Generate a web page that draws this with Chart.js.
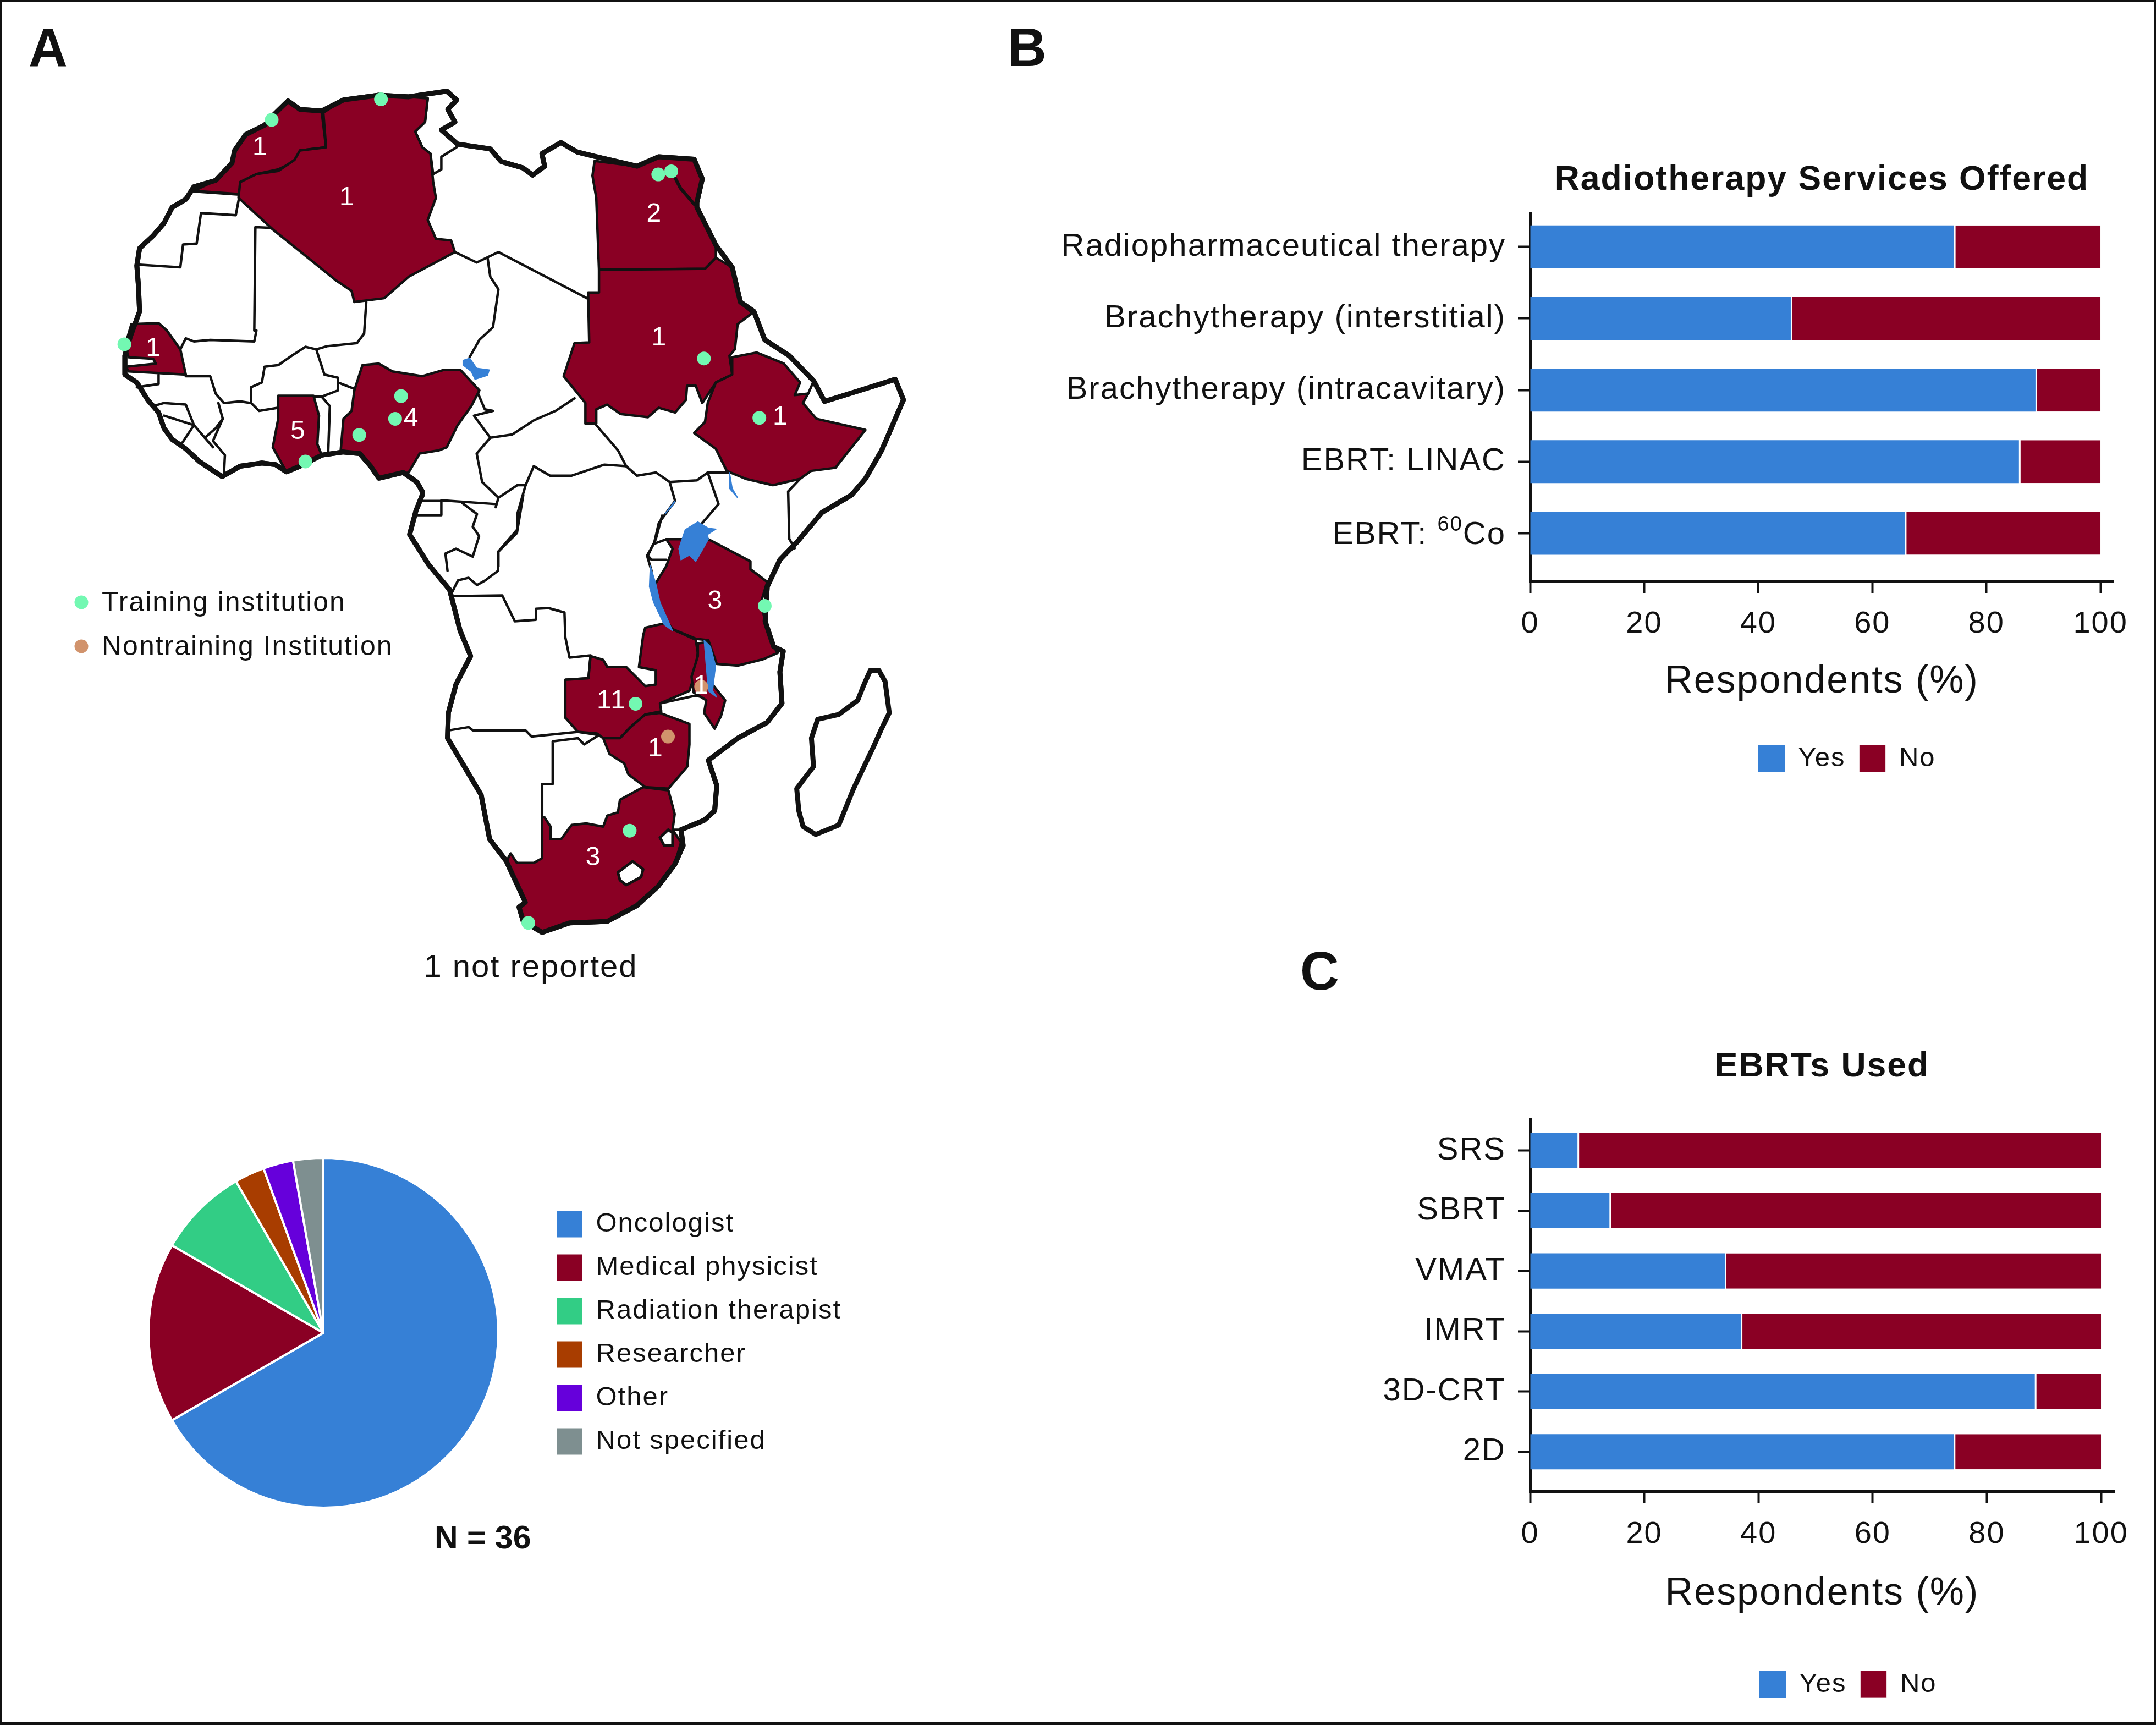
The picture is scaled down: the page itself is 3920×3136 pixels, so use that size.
<!DOCTYPE html>
<html><head><meta charset="utf-8">
<script src="https://cdn.jsdelivr.net/npm/chart.js@4"></script>
<style>
html,body{margin:0;padding:0;background:#fff;width:3920px;height:3136px;overflow:hidden;font-family:"Liberation Sans",sans-serif;color:#111}
canvas{position:absolute;display:block}
.t{position:absolute;white-space:nowrap}
.p{font-weight:700;font-size:98px;line-height:96px;color:#111}
#frame{position:absolute;left:0;top:0;width:3912px;height:3127px;border:4px solid #111;border-bottom-width:5px}
</style></head><body>
<div id="frame"></div>
<div class="t p" style="left:52px;top:38px">A</div>
<div class="t p" style="left:1832px;top:38px">B</div>
<div class="t p" style="left:2364px;top:1717px">C</div>
<div class="t" style="left:790px;top:2760px;font-weight:700;font-size:59px;line-height:70px">N = 36</div>
<canvas id="map" width="1900" height="1900" style="left:0;top:0"></canvas>
<canvas id="pie" width="1800" height="640" style="left:0;top:2103px"></canvas>
<canvas id="b" width="2086" height="1180" style="left:1830px;top:270px"></canvas>
<canvas id="c" width="2086" height="1250" style="left:1830px;top:1880px"></canvas>
<script>
// ---------- data ----------
const serviceCats=['Radiopharmaceutical therapy','Brachytherapy (interstitial)','Brachytherapy (intracavitary)','EBRT: LINAC','EBRT: 60Co'];
const serviceYes=[74.3,45.7,88.6,85.7,65.7];
const serviceNo=[25.7,54.3,11.4,14.3,34.3];
const ebrtCats=['SRS','SBRT','VMAT','IMRT','3D-CRT','2D'];
const ebrtYes=[8.3,13.9,34.1,36.9,88.4,74.2];
const ebrtNo=[91.7,86.1,65.9,63.1,11.6,25.8];
const pieLabels=['Oncologist','Medical physicist','Radiation therapist','Researcher','Other','Not specified'];
const pieValues=[24,6,3,1,1,1];
const xTickValues=[0,20,40,60,80,100];

// map geometry: two survey frames (north and south of Africa) of [x,y,x,y,...]
const coastNorth=[615,1300,590,1270,545,1288,530,1250,510,1210,480,1205,440,1215,400,1250,375,1268,355,1245,330,1240,290,1250,257,1283,215,1235,190,1195,165,1165,150,1130,140,1080,120,1040,100,985,78,960,78,900,88,840,105,760,103,680,100,615,105,560,130,520,150,480,165,430,190,405,205,365,245,345,275,290,280,250,300,200,335,170,350,140,378,93,400,120,440,125,480,90,545,75,600,80,670,62,688,90,672,120,685,160,660,185,690,230,750,245,770,285,810,305,828,328,850,300,845,260,880,225,910,255,945,270,1020,300,1060,270,1125,278,1140,340,1130,415,1130,430,1165,550,1195,620,1210,730,1235,760,1255,850,1300,900,1345,980,1365,1045,1430,1010,1495,975,1510,1040,1470,1200,1440,1290];
const coastSouth=[1370,0,1300,55,1240,150,1200,205,1170,290,1165,400,1185,480,1208,495,1200,560,1205,660,1170,720,1100,770,1030,840,1050,920,1045,1000,1020,1030,965,1060,970,1110,950,1170,910,1240,860,1300,790,1350,700,1355,635,1385,590,1350,580,1305,595,1290,550,1160,510,1090,490,950,450,860,410,770,412,690,430,600,465,510,440,430,415,300,365,220,320,125,335,50,350,0];
const madagascar=[1415,555,1435,555,1450,590,1460,690,1440,745,1425,790,1375,930,1340,1045,1285,1075,1255,1050,1245,1000,1240,930,1280,860,1275,770,1290,710,1340,695,1385,650,1400,600,1415,555];

const northBorders=[
[205,380,288,390],
[288,400,282,455,218,448,210,545,185,548,180,620,105,612],
[350,495,318,493,316,820,320,820,316,855,235,850,205,855,190,845,180,880],
[522,730,518,830,505,860,450,870,430,880,410,872,385,900,360,930,335,935,330,985,310,1000,310,1050,290,1045,260,1050,245,1020,235,965,190,965],
[685,572,725,605,765,572,930,720],
[745,590,750,650,765,690,755,810,730,850,712,905],
[430,880,445,960,470,970,470,1010,440,1030,425,1030],
[470,985,500,1005],
[310,1050,325,1075,360,1065],
[440,1030,455,1060,452,1205],
[260,1283,262,1215,240,1170,258,1100,250,1050],
[130,1060,150,1050,190,1055,205,1120,225,1160,245,1130,258,1100],
[180,1185,205,1120,150,1090],
[225,1160,240,1190],
[100,1000,140,990,140,960],
[635,85,630,160,612,190,625,240,640,260,645,325,660,310,660,270,688,240],
[725,1010,740,1070,755,1075,720,1090,750,1160,725,1210,735,1300,765,1350,760,1380],
[750,1160,790,1150,830,1105,870,1075,905,1035],
[765,1350,800,1310,815,1310,830,1250,860,1280,900,1280,960,1245,1000,1250,1020,1280,1055,1270,1080,1300,1130,1295,1150,1270,1190,1270],
[945,1120,985,1200,1000,1250],
[1150,1270,1170,1370,1140,1430],
[1320,1290,1298,1330,1300,1480,1310,1510],
[1080,1300,1090,1360,1060,1430,1052,1490],
[625,1360,660,1360,660,1405,615,1405],
[660,1358,760,1370],
[815,1310,800,1400,800,1450,765,1520,765,1568],
[1335,1020,1345,980]
];
const southBorders=[
[445,25,480,60,470,100,485,130,470,195,430,170,405,185,410,240],
[590,0,575,120,530,180,530,240,500,270,480,285,460,262,435,270,420,310],
[420,320,540,318,570,400,620,395,620,360,650,358,688,372,690,450,700,515,750,508],
[920,65,905,140,885,195,895,240],
[930,140,900,155,885,190,895,205,930,205],
[750,510,745,580,690,585,690,705],
[415,745,460,735,470,745,595,745,610,765,720,750,770,760,735,790,720,770,660,780,660,915,635,915,635,1150],
[915,660,1000,635,1030,645],
[945,1060,965,1060]
];
const morocco=[205,378,245,345,275,290,280,250,300,200,335,170,350,140,378,93,400,120,440,128,448,240,400,250,390,285,360,310,320,325,292,350,288,388,205,378];
const algeria=[290,350,320,325,360,315,390,280,400,250,448,240,443,130,480,90,545,75,600,80,635,85,630,160,612,190,625,240,640,260,645,350,650,400,635,470,650,530,678,535,685,572,600,650,555,718,500,730,495,695,465,660,350,500,287,400,290,350];
const egypt=[942,283,1020,300,1060,270,1125,278,1140,340,1130,415,1130,430,1165,550,1165,590,1145,625,950,628,945,400,938,330,942,283];
const sudan=[950,628,1130,625,1145,625,1165,590,1195,620,1210,730,1232,765,1205,800,1200,880,1190,900,1195,960,1165,985,1140,1050,1128,995,1112,995,1110,1040,1090,1080,1060,1065,1040,1095,990,1085,965,1055,945,1070,945,1115,925,1115,925,1050,885,965,905,860,932,858,930,700,950,700,950,628];
const ethiopia=[1195,905,1240,890,1290,925,1320,985,1310,1025,1335,1020,1325,1050,1350,1100,1440,1135,1385,1255,1340,1265,1320,1290,1270,1310,1220,1290,1185,1265,1165,1195,1125,1145,1145,1110,1150,1050,1165,985,1195,960,1195,905];
const senegal=[90,800,140,797,155,820,180,880,190,960,140,955,85,950,80,935,135,925,130,910,85,905,78,870,90,800];
const ghana=[360,1027,425,1027,435,1090,432,1180,440,1215,400,1250,375,1268,350,1190,360,1100,360,1027];
const nigeria=[515,930,545,925,570,950,625,965,665,945,695,945,730,1010,715,1060,690,1120,670,1190,655,1200,620,1210,600,1270,545,1288,530,1250,510,1210,475,1200,480,1100,495,1075,500,1010,515,930];
const tanzania=[930,140,965,140,1030,140,1130,210,1130,235,1170,275,1155,340,1165,400,1185,480,1195,500,1160,520,1100,540,1050,535,1030,460,1000,455,945,425,915,370,900,290,930,225,945,170,930,140];
const zambia=[750,510,780,522,790,545,835,545,880,605,905,600,905,555,865,545,875,445,880,420,930,405,945,425,1000,458,1005,500,995,580,985,620,915,660,918,685,880,695,845,735,820,770,780,770,765,755,720,750,690,705,690,585,745,580,750,510];
const malawi=[1005,470,1030,465,1045,530,1040,600,1070,650,1060,700,1045,740,1020,690,1025,650,995,625,990,575,1005,510,1005,470];
const zimbabwe=[780,770,820,770,845,735,880,695,915,690,985,725,985,790,980,860,935,930,880,925,840,885,830,850,795,820,780,770];
const southAfrica=[640,1020,655,1050,655,1090,680,1090,705,1045,740,1040,780,1050,790,1015,815,1005,820,965,875,925,935,935,950,1010,945,1060,965,1100,950,1170,910,1240,860,1300,790,1350,700,1355,635,1385,590,1350,580,1305,595,1290,550,1160,560,1135,575,1165,615,1165,635,1150,635,1020,640,1020];
const lesotho=[815,1195,850,1160,875,1185,870,1210,835,1235,820,1220,815,1195];
const eswatini=[915,1085,935,1060,945,1070,945,1110,925,1110,915,1085];
const suezLine=[1085,320,1100,370,1125,420];
const lakeChad=[700,915,712,908,725,940,748,945,745,962,722,975,715,950,700,930,700,915];
const lakeTurkana=[1190,1270,1195,1320,1205,1350,1190,1320,1190,1270];
const lakeAlbert=[1090,1360,1072,1400,1085,1375,1090,1360];
const lakeVictoria=[975,110,1005,85,1030,105,1048,108,1028,125,1030,140,1015,175,1000,210,985,190,965,205,960,170,970,130,975,110];
const lakeTanganyika=[892,225,905,280,915,340,945,430,925,410,900,340,890,290,892,225];
const lakeMalawi=[1020,460,1035,480,1047,540,1040,620,1050,640,1030,620,1025,540,1020,460];
const trainingNorth=[348,153,549,88,1059,326,1083,316,1143,909,1245,1097,77,864,410,1235,586,1028,575,1100,509,1151];
const trainingSouth=[1164,351,857,661,843,1063,602,1355];
const nontrainingSouth=[1013,607,934,765];
const northCounts=[['1',327,242],['1',487,400],['2',1052,452],['1',1061,845],['1',1284,1095],['1',131,878],['5',397,1140],['4',605,1100]];
const southCounts=[['3',1047,338],['11',800,653],['1',1014,605],['1',905,805],['3',757,1150]];
const mapLegendX=148, mapLegendTextX=185, mapLegendY=[1095,1175];
const mapLegendText=['Training institution','Nontraining Institution'];

// ---------- style ----------
const BLUE='#3680D6',RED='#8A0024',GREEN='#32CD85',BROWN='#A83D00',PURPLE='#6600DB',GREY='#7E8F90',INK='#111111';
const FONT='"Liberation Sans", sans-serif';
Chart.defaults.color=INK;
Chart.defaults.font.family=FONT;
Chart.defaults.animation=false;
const spacing={id:'spacing',beforeLayout(c){c.ctx.letterSpacing='2px'},beforeDraw(c){c.ctx.letterSpacing='2px'}};

// ---------- map ----------
const N=f=>{const o=[];for(let i=0;i<f.length;i+=2)o.push({x:150+.9885*f[i],y:130+.574*f[i+1]});return o};
const S=f=>{const o=[];for(let i=0;i<f.length;i+=2)o.push({x:500+.765*f[i],y:900+.574*f[i+1]});return o};
const coastPts=[...N(coastNorth),...S(coastSouth)];
coastPts.push(...N([625,1330]),coastPts[0]);
const line=(d,w,col,fillCol)=>({data:d,showLine:true,borderColor:col,borderWidth:w,backgroundColor:fillCol||'transparent',fill:fillCol?'shape':false,pointRadius:0,tension:0,borderJoinStyle:'round',borderCapStyle:'round'});
const layers=[];
layers.push(line(coastPts,9,INK,'#ffffff'));
layers.push(line(S(madagascar),9,INK,'#ffffff'));
northBorders.forEach(b=>layers.push(line(N(b),4.5,INK)));
southBorders.forEach(b=>layers.push(line(S(b),4.5,INK)));
[morocco,algeria,egypt,sudan,ethiopia,senegal,ghana,nigeria].forEach(c=>layers.push(line(N(c),4.5,INK,RED)));
[tanzania,zambia,malawi,zimbabwe,southAfrica].forEach(c=>layers.push(line(S(c),4.5,INK,RED)));
[lesotho,eswatini].forEach(c=>layers.push(line(S(c),5,INK,'#ffffff')));
layers.push(line(N(suezLine),6,INK));
layers.push(line(coastPts,9,INK));
[lakeChad,lakeTurkana,lakeAlbert].forEach(c=>layers.push(line(N(c),2,BLUE,BLUE)));
[lakeVictoria,lakeTanganyika,lakeMalawi].forEach(c=>layers.push(line(S(c),2,BLUE,BLUE)));
const dot=(d,col)=>({data:d,showLine:false,pointRadius:12.5,pointHoverRadius:12.5,pointBorderWidth:0,backgroundColor:col,pointBackgroundColor:col});
layers.push(dot([...N(trainingNorth),...S(trainingSouth),{x:mapLegendX,y:mapLegendY[0]}],'#73F8B2'));
layers.push(dot([...S(nontrainingSouth),{x:mapLegendX,y:mapLegendY[1]}],'#D1936C'));
const mapText={id:'mapText',afterDatasetsDraw(c){
  const ctx=c.ctx,sx=c.scales.x,sy=c.scales.y;ctx.save();ctx.textBaseline='middle';
  ctx.font='48px '+FONT;ctx.fillStyle='#fff';ctx.textAlign='center';
  const put=(t,p)=>ctx.fillText(t,sx.getPixelForValue(p.x),sy.getPixelForValue(p.y));
  northCounts.forEach(r=>put(r[0],N([r[1],r[2]])[0]));
  southCounts.forEach(r=>put(r[0],S([r[1],r[2]])[0]));
  ctx.fillStyle=INK;ctx.font='50px '+FONT;ctx.textAlign='left';
  mapLegendText.forEach((t,i)=>put(t,{x:mapLegendTextX,y:mapLegendY[i]+2}));
  ctx.textAlign='center';ctx.font='58px '+FONT;
  put('1 not reported',{x:965,y:1760});
  ctx.restore();}};
new Chart(document.getElementById('map'),{type:'scatter',data:{datasets:layers.slice().reverse()},
  options:{responsive:false,layout:{padding:0,autoPadding:false},events:[],plugins:{legend:{display:false},tooltip:{enabled:false}},
  scales:{x:{type:'linear',display:false,min:0,max:1900},y:{type:'linear',display:false,min:0,max:1900,reverse:true}}},plugins:[spacing,mapText]});

// ---------- pie ----------
const placePieLegend={id:'placeLegend',afterLayout(c){const l=c.legend;l.left=982;l.right=1790;l.top=68;l.bottom=622;l.width=808;l.height=554;}};
new Chart(document.getElementById('pie'),{type:'pie',data:{labels:pieLabels,datasets:[{data:pieValues,backgroundColor:[BLUE,RED,GREEN,BROWN,PURPLE,GREY],borderColor:'#fff',borderWidth:4}]},
  options:{responsive:false,events:[],layout:{padding:{right:624}},plugins:{tooltip:{enabled:false},
  legend:{position:'chartArea',align:'start',labels:{boxWidth:47,boxHeight:48,padding:30,font:{size:49},color:INK,
   generateLabels:c=>Chart.overrides.pie.plugins.legend.labels.generateLabels(c).map(i=>({...i,lineWidth:0}))}}}},plugins:[spacing,placePieLegend]});

// ---------- bars ----------
// "60Co" needs a raised isotope number, which a tick label cannot do, so that one label is composed here
const isotopeLabel={id:'isotopeLabel',afterDraw(c){
  const y=c.scales.y,i=serviceCats.indexOf('EBRT: 60Co');if(i<0||!c.canvas||c.canvas.id!=='b')return;
  const ctx=c.ctx;ctx.save();ctx.fillStyle=INK;ctx.textAlign='left';ctx.textBaseline='alphabetic';
  const base=y.getPixelForValue(i)+20,right=c.chartArea.left-44;
  ctx.font='58px '+FONT;const wCo=ctx.measureText('Co').width,wE=ctx.measureText('EBRT: ').width;
  ctx.font='38px '+FONT;const w60=ctx.measureText('60').width;
  ctx.fillText('60',right-wCo-w60,base-24);
  ctx.font='58px '+FONT;ctx.fillText('Co',right-wCo,base);ctx.fillText('EBRT: ',right-wCo-w60-wE,base);
  ctx.restore();}};
function barChart(id,cats,yes,no,g){
  const toPts=v=>v.map((x,i)=>({x,y:i}));
  const place={id:'placeLegend',afterLayout(c){const l=c.legend;l.left=g.legendLeft-25;l.right=l.left+700;l.top=g.legendTop-25;l.bottom=l.top+110;}};
  new Chart(document.getElementById(id),{type:'bar',data:{datasets:[
    {label:'Yes',data:toPts(yes),backgroundColor:BLUE,borderWidth:0},
    {label:'No',data:toPts(no),backgroundColor:RED,borderColor:'#fff',borderWidth:{left:3},borderSkipped:false}]},
  options:{responsive:false,events:[],indexAxis:'y',layout:{padding:{right:g.right}},
    datasets:{bar:{barPercentage:g.bar,categoryPercentage:1}},
    plugins:{tooltip:{enabled:false},
      title:{display:true,text:g.title,font:{size:62.5,weight:'bold'},color:INK,fullSize:false,padding:{top:g.titleTop,bottom:g.titleBottom}},
      legend:{position:'bottom',align:'start',labels:{boxWidth:48,boxHeight:50,padding:25,font:{size:49},color:INK}}},
    scales:{
      x:{type:'linear',stacked:true,min:0,max:102.3,
        afterBuildTicks:s=>{s.ticks=xTickValues.map(value=>({value}))},
        afterFit:s=>{s.height=g.xHeight},
        border:{display:true,width:5,color:INK},
        grid:{drawOnChartArea:false,drawTicks:true,tickLength:22,tickWidth:4,tickColor:INK},
        ticks:{padding:23,maxRotation:0,autoSkip:false,font:{size:56},color:INK},
        title:{display:true,text:'Respondents (%)',font:{size:70},color:INK,padding:{top:0,bottom:g.xTitleBottom}}},
      y:{type:'linear',stacked:true,reverse:true,offset:false,min:g.yMin,max:g.yMax,
        afterBuildTicks:s=>{s.ticks=cats.map((_,value)=>({value}))},
        afterFit:s=>{s.width=952},
        border:{display:true,width:5,color:INK},
        grid:{offset:false,drawOnChartArea:false,drawTicks:true,tickLength:22,tickWidth:4,tickColor:INK},
        ticks:{padding:22,autoSkip:false,font:{size:58},color:INK,callback:v=>cats[v]==='EBRT: 60Co'?'':cats[v]}}}},
  plugins:[spacing,place,isotopeLabel]});
}
barChart('b',serviceCats,serviceYes,serviceNo,{title:'Radiotherapy Services Offered',right:73,bar:.6,titleTop:20,titleBottom:22.2,xHeight:309,xTitleBottom:83,yMin:-.473,yMax:4.665,legendLeft:1367,legendTop:1084});
barChart('c',ebrtCats,ebrtYes,ebrtNo,{title:'EBRTs Used',right:72,bar:.585,titleTop:22,titleBottom:58.2,xHeight:334,xTitleBottom:105,yMin:-.514,yMax:5.655,legendLeft:1369,legendTop:1157});
</script>
</body></html>
